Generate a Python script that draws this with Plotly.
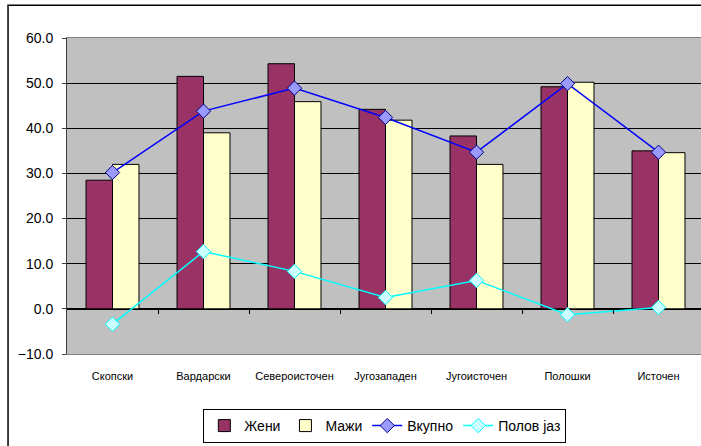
import plotly.graph_objects as go

categories = ["Скопски", "Вардарски", "Североисточен", "Југозападен", "Југоисточен", "Полошки", "Источен"]
zeni = [28.5, 51.5, 54.3, 44.2, 38.3, 49.2, 35.0]
mazi = [32.0, 39.0, 45.9, 41.8, 32.0, 50.2, 34.6]
vkupno = [30.2, 43.8, 48.9, 42.4, 34.7, 49.9, 34.7]
polov_jaz = [-3.4, 12.7, 8.3, 2.5, 6.3, -1.3, 0.3]
y_ticks = [-10, 0, 10, 20, 30, 40, 50, 60]
boundary_ticks = [0.5, 1.5, 2.5, 3.5, 4.5, 5.5]

FONT = "Liberation Sans, Arial, sans-serif"
XR = [-0.5, 6.467]
YR = [-10, 60]

fig = go.Figure()
fig.add_trace(go.Bar(name="Жени", x=categories, y=zeni,
                     marker=dict(color="#993366", line=dict(color="black", width=1))))
fig.add_trace(go.Bar(name="Мажи", x=categories, y=mazi,
                     marker=dict(color="#FFFFCC", line=dict(color="black", width=1))))
fig.add_trace(go.Scatter(name="Вкупно", x=categories, y=vkupno, mode="lines+markers",
                         line=dict(color="#0000FF", width=1.5),
                         marker=dict(symbol="diamond", size=11, color="#9999FF",
                                     line=dict(color="#000080", width=1))))
fig.add_trace(go.Scatter(name="Полов јаз", x=categories, y=polov_jaz, mode="lines+markers",
                         line=dict(color="#00FFFF", width=1.5),
                         marker=dict(symbol="diamond", size=11, color="#CCFFFF",
                                     line=dict(color="#00FFFF", width=1))))
fig.add_trace(go.Scatter(x=[], y=[], xaxis="x2", showlegend=False, hoverinfo="skip"))

zero_pos = (0 - YR[0]) / (YR[1] - YR[0])

fig.update_layout(
    width=701, height=446,
    margin=dict(l=67, r=0, t=38, b=92, autoexpand=False),
    paper_bgcolor="white",
    plot_bgcolor="#C0C0C0",
    font=dict(family=FONT, color="black"),
    barmode="group",
    bargap=0.418,
    bargroupgap=0,
    showlegend=True,
    legend=dict(orientation="h", xref="container", yref="container",
                x=0.549, xanchor="center", y=0.083, yanchor="top",
                bgcolor="white", bordercolor="black", borderwidth=1,
                font=dict(size=14, family=FONT), traceorder="normal",
                itemwidth=30),
    xaxis=dict(type="category", range=XR, showgrid=False, zeroline=False, automargin=False,
               showline=True, linecolor="#808080", linewidth=1, mirror=True,
               ticks="", tickfont=dict(size=11, family=FONT), ticklabelstandoff=12),
    xaxis2=dict(overlaying="x", anchor="free", position=zero_pos, side="bottom",
                range=XR, tickmode="array", tickvals=boundary_ticks, automargin=False,
                ticks="outside", ticklen=4, tickcolor="black", tickwidth=1,
                showticklabels=False, showline=False, showgrid=False, zeroline=False),
    yaxis=dict(range=YR, tickmode="array", tickvals=y_ticks, tickformat=".1f", automargin=False,
               showgrid=True, gridcolor="black", gridwidth=1,
               zeroline=True, zerolinecolor="black", zerolinewidth=1.5,
               showline=True, linecolor="#404040", linewidth=1, mirror=True,
               ticks="outside", ticklen=4, tickcolor="#404040",
               tickfont=dict(size=14, family=FONT), ticklabelstandoff=6),
    shapes=[dict(type="rect", xref="paper", yref="paper",
                 x0=-0.093, x1=1.02, y0=-0.35, y1=1.104,
                 line=dict(color="black", width=1.5), fillcolor="rgba(0,0,0,0)", layer="above")],
)

fig.write_html("out.html", config={"displayModeBar": False},
               post_script="document.body.style.margin='0';document.body.style.overflow='hidden';")
